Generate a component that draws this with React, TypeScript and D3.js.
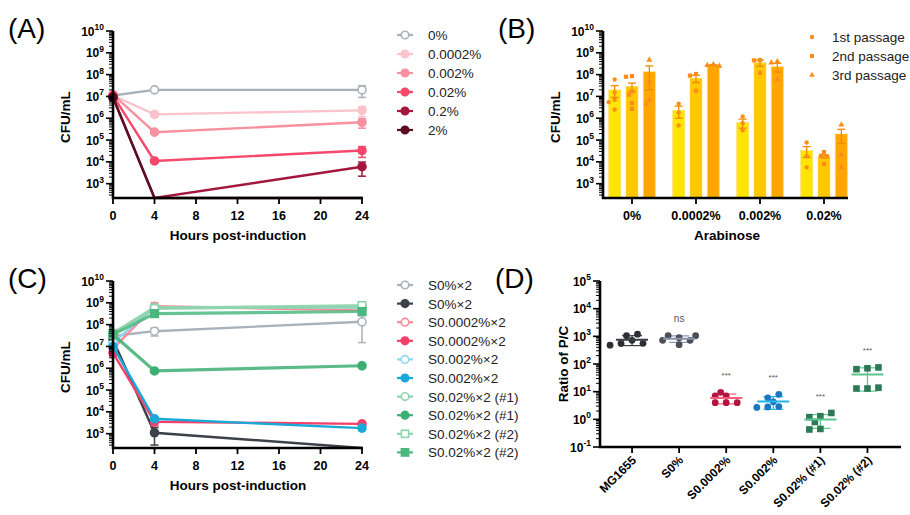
import React from "react";
import * as d3 from "d3";

const FONT = "'Liberation Sans', Arial, Helvetica, sans-serif";

// ---------- Panel A ----------
const hoursA = [0, 4, 24];
const hourTicks = [0, 4, 8, 12, 16, 20, 24];
const namesA = ["0%", "0.0002%", "0.002%", "0.02%", "0.2%", "2%"];
const colorsA = ["#a9b1ba", "#fbc3cb", "#f8919f", "#f5486b", "#a3173f", "#5a1022"];
const openA = [true, false, false, false, false, false];
const valuesA = [
  [1.1e7, 2e7, 2e7],
  [1.1e7, 1.5e6, 2.3e6],
  [1.2e7, 2.3e5, 6.5e5],
  [1.1e7, 1.1e4, 3.3e4],
  [9e6, 220, 6e3],
  [9e6, 220, 220],
];
const semA = [
  [0, 0, 1.1e7],
  [0, 0, 1.1e6],
  [0, 3e4, 3e5],
  [0, 2e3, 1.7e4],
  [0, 0, 3.8e3],
  [0, 0, 0],
];

// ---------- Panel B ----------
const catsB = ["0%", "0.0002%", "0.002%", "0.02%"];
const passagesB = ["1st passage", "2nd passage", "3rd passage"];
const barColorsB = ["#ffe500", "#ffc800", "#ffa600"];
const meansB = [
  [2e7, 2.9e7, 1.35e8],
  [2.3e6, 6.8e7, 2.7e8],
  [6.3e5, 3.5e8, 2.3e8],
  [3.3e4, 1.8e4, 1.9e5],
];
const semB = [
  [1.1e7, 1.2e7, 1.15e8],
  [1.3e6, 2.5e7, 1.5e7],
  [2.8e5, 1.1e8, 1.0e8],
  [1.7e4, 3e3, 1.2e5],
];
const pointsB = [
  [[6e7, 1.5e7, 7e6, 5.5e6, 2.5e6], [8.5e7, 8e7, 1.7e7, 5e6, 2.7e6, 1.2e7], [4.7e8, 4.7e7, 7e6, 4.6e6]],
  [[4.6e6, 1.8e6, 4.7e5], [1.07e8, 9e7, 1.8e7], [2.9e8, 2.7e8, 2.5e8]],
  [[1.2e6, 6e5, 2.8e5], [4.7e8, 4.5e8, 1.2e8], [4e8, 3.5e8, 6e7]],
  [[7.7e4, 1.8e4, 5.6e3], [2.8e4, 1.9e4, 1.8e4, 8e3], [5e5, 2.1e4, 5.6e3]],
];

// ---------- Panel C ----------
const namesC = [
  "S0%×2", "S0%×2", "S0.0002%×2", "S0.0002%×2", "S0.002%×2", "S0.002%×2",
  "S0.02%×2 (#1)", "S0.02%×2 (#1)", "S0.02%×2 (#2)", "S0.02%×2 (#2)",
];
const colorsC = ["#a9b1ba", "#3d4248", "#ff8a98", "#f5406a", "#8fd9ef", "#19a9d9", "#8fd4ad", "#3daf74", "#8fd4ad", "#4cb880"];
const openC = [true, false, true, false, true, false, true, false, true, false];
const squareC = [false, false, false, false, false, false, false, false, true, true];
const valuesC = [
  [3e7, 5e7, 1.35e8],
  [2e7, 1.1e3, 220],
  [8e6, 7e8, 4.5e8],
  [5e6, 3.5e3, 2.8e3],
  [1.5e7, 6e8, 6e8],
  [1e7, 4.8e3, 1.8e3],
  [4e7, 6e8, 6.5e8],
  [3.5e7, 7.5e5, 1.3e6],
  [4e7, 5.5e8, 7.5e8],
  [3.5e7, 3.2e8, 4e8],
];
const semC = [
  [1e7, 2e7, 1.2e8],
  [5e6, 8e2, 0],
  [3e6, 3e8, 5e7],
  [1.5e6, 1.2e3, 4e2],
  [5e6, 1e8, 5e7],
  [3e6, 1e3, 4e2],
  [1e7, 1e8, 5e7],
  [1e7, 1e5, 1e5],
  [1e7, 1e8, 1e8],
  [1e7, 5e7, 5e7],
];

// ---------- Panel D ----------
const catsD = ["MG1655", "S0%", "S0.0002%", "S0.002%", "S0.02% (#1)", "S0.02% (#2)"];
const pointsD = [
  [720, 1050, 1200, 550, 560, 480],
  [890, 1050, 720, 1050, 720, 500],
  [7, 7, 9.5, 4, 4, 4],
  [4.3, 6, 8, 2.8, 2.9, 2.7],
  [1.3, 1.2, 1.7, 0.8, 0.45, 0.43],
  [70, 65, 75, 13, 13, 14],
];
const dotColorsD = ["#2c2f34", "#4a4f57", "#b0143f", "#1a78c2", "#2b7a55", "#2b7a55"];
const lineColorsD = ["#3a3e44", "#8796aa", "#ff5a7a", "#22b4e6", "#5cc48e", "#5cc48e"];
const sigD = ["", "ns", "***", "***", "***", "***"];

// ---------- helpers ----------
function LogAxisY({ scale, x, minExp, maxExp }: any) {
  const [d0, d1] = scale.domain();
  const majors = d3.range(minExp, maxExp + 1);
  const minors: number[] = [];
  for (let e = Math.floor(Math.log10(d0)); e < maxExp; e++) {
    for (let k = 2; k <= 9; k++) {
      const v = k * Math.pow(10, e);
      if (v >= d0 && v <= d1) minors.push(v);
    }
  }
  return (
    <g>
      {minors.map((v, i) => (
        <line key={"m" + i} x1={x - 4} x2={x} y1={scale(v)} y2={scale(v)} stroke="#000" strokeWidth={1} />
      ))}
      {majors.map((e) => (
        <g key={e}>
          <line x1={x - 7} x2={x} y1={scale(Math.pow(10, e))} y2={scale(Math.pow(10, e))} stroke="#000" strokeWidth={1.6} />
          <text x={x - 9} y={scale(Math.pow(10, e)) + 4.5} textAnchor="end" fontWeight="bold" fontSize={12} fontFamily={FONT}>
            10<tspan dy={-5.5} fontSize={8.5}>{e}</tspan>
          </text>
        </g>
      ))}
      <line x1={x} x2={x} y1={scale(d0) + 1} y2={scale(d1)} stroke="#000" strokeWidth={2.6} />
    </g>
  );
}

function Marker({ x, y, color, open, square, r = 4 }: any) {
  const fill = open ? "#fff" : color;
  if (square)
    return <rect x={x - r} y={y - r} width={2 * r} height={2 * r} fill={fill} stroke={color} strokeWidth={1.6} />;
  return <circle cx={x} cy={y} r={r} fill={fill} stroke={color} strokeWidth={1.6} />;
}

function swarm(values: number[], ys: (v: number) => number, minDist: number, step: number) {
  const placed: { x: number; y: number }[] = [];
  return values.map((v) => {
    const y = ys(v);
    for (let k = 0; k < 30; k++) {
      const cands = k === 0 ? [0] : [-k * step, k * step];
      for (const c of cands) {
        if (placed.every((p) => Math.hypot(p.x - c, p.y - y) >= minDist)) {
          placed.push({ x: c, y });
          return { x: c, y };
        }
      }
    }
    return { x: 0, y };
  });
}

function TimePanel({ top, names, colors, opens, squares, values, sems, strokeW, label }: any) {
  const y = d3.scaleLog().domain([220, 1e10]).range([top + 167, top]);
  const x = d3.scaleLinear().domain([0, 24]).range([113, 362]);
  const d0 = 220;
  const line = d3
    .line<number>()
    .x((_, i) => x(hoursA[i]))
    .y((v) => y(Math.max(v, d0)));
  const bottom = top + 167;
  return (
    <g>
      <text x={8} y={top + 7} fontSize={28} fontFamily={FONT}>{label}</text>
      {values.map((vals: number[], s: number) => (
        <g key={s}>
          <path d={line(vals) || ""} fill="none" stroke={colors[s]} strokeWidth={strokeW[s]} strokeOpacity={strokeW[s] > 2.6 ? 0.85 : 1} />
          {vals.map((v, i) => {
            const e = sems[s][i];
            if (!e) return null;
            const lo = y(Math.max(v - e, d0));
            const hi = y(v + e);
            const cx = x(hoursA[i]);
            return (
              <g key={i} stroke={colors[s]} strokeWidth={1.5}>
                <line x1={cx} x2={cx} y1={lo} y2={hi} />
                <line x1={cx - 4} x2={cx + 4} y1={lo} y2={lo} />
                <line x1={cx - 4} x2={cx + 4} y1={hi} y2={hi} />
              </g>
            );
          })}
          {vals.map((v, i) =>
            v > d0 ? (
              <Marker key={"p" + i} x={x(hoursA[i])} y={y(v)} color={colors[s]} open={opens[s]} square={squares[s]} r={squares[s] ? 3.8 : 4} />
            ) : null
          )}
        </g>
      ))}
      <LogAxisY scale={y} x={113} minExp={3} maxExp={10} />
      <line x1={112} x2={363} y1={bottom} y2={bottom} stroke="#000" strokeWidth={2.6} />
      {hourTicks.map((t) => (
        <g key={t}>
          <line x1={x(t)} x2={x(t)} y1={bottom} y2={bottom + 6} stroke="#000" strokeWidth={1.8} />
          <text x={x(t)} y={bottom + 22} textAnchor="middle" fontWeight="bold" fontSize={12.5} fontFamily={FONT}>{t}</text>
        </g>
      ))}
      <text x={238} y={bottom + 42} textAnchor="middle" fontWeight="bold" fontSize={13.5} fontFamily={FONT}>Hours post-induction</text>
      <text transform={`translate(70,${top + 86}) rotate(-90)`} textAnchor="middle" fontWeight="bold" fontSize={13.5} fontFamily={FONT}>CFU/mL</text>
      {names.map((n: string, i: number) => {
        const ly = top + 4 + i * (names.length > 6 ? 18.6 : 19);
        return (
          <g key={"l" + i}>
            <line x1={397} x2={413} y1={ly} y2={ly} stroke={colors[i]} strokeWidth={2.2} />
            <Marker x={405} y={ly} color={colors[i]} open={opens[i]} square={squares[i]} r={squares[i] ? 3.6 : 3.8} />
            <text x={428} y={ly + 5} fontSize={13.5} fontFamily={FONT} fill="#222">{n}</text>
          </g>
        );
      })}
    </g>
  );
}

function PanelB() {
  const top = 31;
  const y = d3.scaleLog().domain([220, 1e10]).range([top + 167, top]);
  const bottom = top + 167;
  const x = d3.scaleBand().domain(catsB).range([600, 856]);
  const sub = d3.scaleBand<number>().domain([0, 1, 2]).range([-26, 26]);
  const bw = 12;
  const ptColor = "#ff8c1a";
  return (
    <g>
      <text x={498} y={38} fontSize={28} fontFamily={FONT}>(B)</text>
      {catsB.map((c, ci) => {
        const cx = (x(c) || 0) + x.bandwidth() / 2;
        return meansB[ci].map((m, pi) => {
          const bx = cx + (sub(pi) || 0) + sub.bandwidth() / 2;
          const e = semB[ci][pi];
          const hi = y(m + e);
          const lo = y(Math.max(m - e, 220));
          const pts = swarm(pointsB[ci][pi], (v) => y(v), 4, 3);
          return (
            <g key={ci + "-" + pi}>
              <rect x={bx - bw / 2} y={y(m)} width={bw} height={bottom - y(m)} fill={barColorsB[pi]} stroke="#ffd966" strokeOpacity={0.6} strokeWidth={1} />
              <g stroke="#f28a00" strokeWidth={1.3}>
                <line x1={bx} x2={bx} y1={lo} y2={hi} />
                <line x1={bx - 4} x2={bx + 4} y1={hi} y2={hi} />
                <line x1={bx - 4} x2={bx + 4} y1={lo} y2={lo} />
              </g>
              {pts.map((p, k) =>
                pi === 0 ? (
                  <circle key={k} cx={bx + p.x} cy={p.y} r={2.2} fill={ptColor} />
                ) : pi === 1 ? (
                  <rect key={k} x={bx + p.x - 2.1} y={p.y - 2.1} width={4.2} height={4.2} fill={ptColor} />
                ) : (
                  <path key={k} d={d3.symbol(d3.symbolTriangle, 16)() || ""} transform={`translate(${bx + p.x},${p.y})`} fill={ptColor} />
                )
              )}
            </g>
          );
        });
      })}
      <LogAxisY scale={y} x={603} minExp={3} maxExp={10} />
      <line x1={602} x2={848} y1={bottom} y2={bottom} stroke="#000" strokeWidth={2.6} />
      {catsB.map((c) => {
        const cx = (x(c) || 0) + x.bandwidth() / 2;
        return (
          <g key={c}>
            <line x1={cx} x2={cx} y1={bottom} y2={bottom + 6} stroke="#000" strokeWidth={1.8} />
            <text x={cx} y={bottom + 22} textAnchor="middle" fontWeight="bold" fontSize={12.5} fontFamily={FONT}>{c}</text>
          </g>
        );
      })}
      <text x={727} y={bottom + 42} textAnchor="middle" fontWeight="bold" fontSize={13.5} fontFamily={FONT}>Arabinose</text>
      <text transform={`translate(560,${top + 86}) rotate(-90)`} textAnchor="middle" fontWeight="bold" fontSize={13.5} fontFamily={FONT}>CFU/mL</text>
      {passagesB.map((p, i) => {
        const ly = 37 + i * 19;
        return (
          <g key={p}>
            {i === 0 ? (
              <circle cx={812} cy={ly} r={2.2} fill={ptColor} />
            ) : i === 1 ? (
              <rect x={810} y={ly - 2} width={4} height={4} fill={ptColor} />
            ) : (
              <path d={d3.symbol(d3.symbolTriangle, 14)() || ""} transform={`translate(812,${ly})`} fill={ptColor} />
            )}
            <text x={832} y={ly + 5} fontSize={13.5} fontFamily={FONT} fill="#222">{p}</text>
          </g>
        );
      })}
    </g>
  );
}

function PanelD() {
  const top = 281;
  const y = d3.scaleLog().domain([0.1, 1e5]).range([447, top]);
  const bottom = 447;
  const x = d3.scaleBand().domain(catsD).range([608.5, 891]);
  return (
    <g>
      <text x={495} y={288} fontSize={28} fontFamily={FONT}>(D)</text>
      {catsD.map((c, ci) => {
        const cx = (x(c) || 0) + x.bandwidth() / 2;
        const vals = pointsD[ci];
        const mean = d3.mean(vals) || 0;
        const sd = d3.deviation(vals) || 0;
        const hi = y(mean + sd);
        const lo = y(Math.max(mean - sd, 0.11));
        const pts = swarm(vals, (v) => y(v), 6.6, 5.5);
        const maxV = d3.max(vals) || 1;
        return (
          <g key={c}>
            <g stroke={lineColorsD[ci]} strokeWidth={1.2}>
              <line x1={cx} x2={cx} y1={lo} y2={hi} />
              <line x1={cx - 10} x2={cx + 10} y1={hi} y2={hi} />
              <line x1={cx - 10} x2={cx + 10} y1={lo} y2={lo} />
            </g>
            {pts.map((p, k) =>
              ci >= 4 ? (
                <rect key={k} x={cx + p.x - 3.3} y={p.y - 3.3} width={6.6} height={6.6} fill={dotColorsD[ci]} />
              ) : (
                <circle key={k} cx={cx + p.x} cy={p.y} r={3.4} fill={dotColorsD[ci]} />
              )
            )}
            <line x1={cx - 16} x2={cx + 16} y1={y(mean)} y2={y(mean)} stroke={lineColorsD[ci]} strokeWidth={2} />
            {sigD[ci] && (
              <text x={cx} y={y(maxV) - 14} textAnchor="middle" fontSize={sigD[ci] === "ns" ? 10 : 8} fill="#555" fontFamily={FONT}>{sigD[ci]}</text>
            )}
          </g>
        );
      })}
      <LogAxisY scale={y} x={600} minExp={-1} maxExp={5} />
      <line x1={599} x2={901} y1={bottom} y2={bottom} stroke="#000" strokeWidth={2.6} />
      {catsD.map((c) => {
        const cx = (x(c) || 0) + x.bandwidth() / 2;
        return (
          <g key={c}>
            <line x1={cx} x2={cx} y1={bottom} y2={bottom + 6} stroke="#000" strokeWidth={1.8} />
            <text transform={`translate(${cx + 5},${bottom + 14}) rotate(-45)`} textAnchor="end" fontWeight="bold" fontSize={12} fontFamily={FONT}>{c}</text>
          </g>
        );
      })}
      <text transform={`translate(568,${top + 83}) rotate(-90)`} textAnchor="middle" fontWeight="bold" fontSize={13.5} fontFamily={FONT}>Ratio of P/C</text>
    </g>
  );
}

export default function App() {
  return (
    <svg width={910} height={515} style={{ position: "absolute", left: 0, top: 0, background: "#fff" }}>
      <rect x={0} y={0} width={910} height={515} fill="#fff" />
      <TimePanel
        top={31}
        label="(A)"
        names={namesA}
        colors={colorsA}
        opens={openA}
        squares={namesA.map(() => false)}
        values={valuesA}
        sems={semA}
        strokeW={namesA.map(() => 2.4)}
      />
      <PanelB />
      <TimePanel
        top={281}
        label="(C)"
        names={namesC}
        colors={colorsC}
        opens={openC}
        squares={squareC}
        values={valuesC}
        sems={semC}
        strokeW={namesC.map((_, i) => (i >= 6 ? 3.2 : 2.4))}
      />
      <PanelD />
    </svg>
  );
}
